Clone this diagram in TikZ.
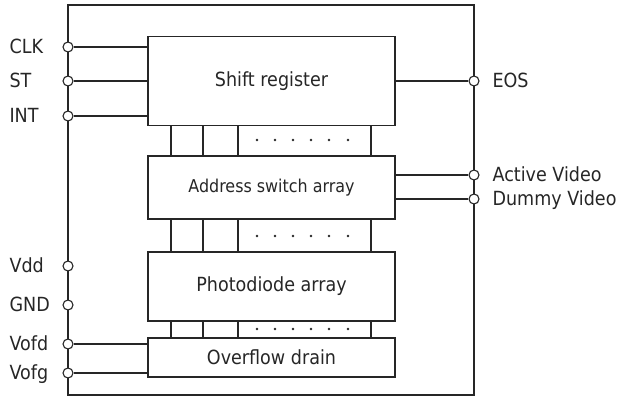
\documentclass[tikz,border=0pt]{standalone}
\usepackage{fontspec}
\setmainfont{DejaVu Sans}[FakeStretch=0.9]
\usepackage{tikz}

\begin{document}
\begin{tikzpicture}[x=1pt,y=-1pt,line width=1.1pt,color=black!85,
    block/.style={draw,minimum width=247pt,inner sep=0pt,font=\fontsize{19.5}{23}\selectfont},
    pin/.style={draw,shape=circle,fill=white,minimum size=10pt,inner sep=0pt},
    lbl/.style={anchor=base west,inner sep=0pt,font=\fontsize{19.5}{23}\selectfont}]
    \useasboundingbox (0,0) rectangle (622,396);
    \draw (68,5) rectangle (474,395);
    		% blocks
    		\draw (271.5,81) 	node (sr) [block,minimum height=89pt] {Shift register};
    		\draw (271.5,187.5) node (asa) [block,minimum height=63pt,font=\fontsize{17.7}{21}\selectfont] {Address switch array};
    		\draw (271.5,286.5) node (pda) [block,minimum height=69pt] {Photodiode array};
    		\draw (271.5,357.5) node (od) [block,minimum height=39pt] {Overflow drain};
    		% pins
    		\draw (68,47) 	node (pclk) [pin] {};
    		\draw (68,81) 	node (pst) [pin] {};
    		\draw (68,116) 	node (pint) [pin] {};
    		\draw (68,266) 	node (pvdd) [pin] {};
    		\draw (68,305) 	node (pgnd) [pin] {};
    		\draw (68,344) 	node (pvofd) [pin] {};
    		\draw (68,373) 	node (pvofg) [pin] {};
    		\draw (474,81) 	node (peos) [pin] {};
    		\draw (474,175) node (pact) [pin] {};
    		\draw (474,199) node (pdum) [pin] {};
    		% pin labels
    		\draw (9,53.5) 	node [lbl] {CLK};
    		\draw (9,87.5) 	node [lbl] {ST};
    		\draw (9,122.5) node [lbl] {INT};
    		\draw (9,272.5) node [lbl] {Vdd};
    		\draw (9,311.5) node [lbl] {GND};
    		\draw (9,350.5) node [lbl] {Vofd};
    		\draw (9,379.5) node [lbl] {Vofg};
    		\draw (492,87.5) node [lbl] {EOS};
    		\draw (492,181.5) node [lbl] {Active Video};
    		\draw (492,205.5) node [lbl] {Dummy Video};
    		% wires
    		\draw (pclk) -- (sr.west |- pclk);
    		\draw (pst) -- (sr.west |- pst);
    		\draw (pint) -- (sr.west |- pint);
    		\draw (pvofd) -- (od.west |- pvofd);
    		\draw (pvofg) -- (od.west |- pvofg);
    		\draw (sr.east |- peos) -- (peos);
    		\draw (asa.east |- pact) -- (pact);
    		\draw (asa.east |- pdum) -- (pdum);
    		% lines between the blocks
    		\foreach \x in {171,203,238,371} {
    		    \draw (\x,0 |- sr.south) -- (\x,0 |- asa.north);
    		    \draw (\x,0 |- asa.south) -- (\x,0 |- pda.north);
    		    \draw (\x,0 |- pda.south) -- (\x,0 |- od.north);
    		}
    		\foreach \y in {140,236,329}
    		    \foreach \x in {257,275,293,311,329,348}
    		        \fill (\x,\y) circle (1.3pt);
	 \end{tikzpicture}
\end{document}
